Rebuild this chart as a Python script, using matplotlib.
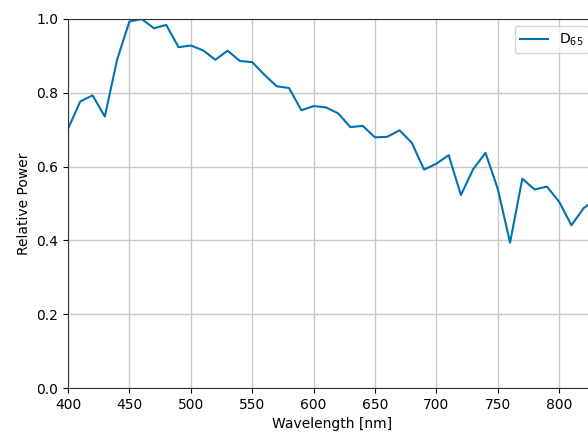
import numpy as np
import matplotlib
matplotlib.use("Agg")
import matplotlib.pyplot as plt

# CIE D65 relative spectral power, 10 nm steps
wavelengths = np.arange(400, 831, 10)
d65 = np.array([
    82.7549, 91.4860, 93.4318, 86.6823, 104.865, 117.008, 117.812, 114.861,
    115.923, 108.811, 109.354, 107.802, 104.790, 107.689, 104.405, 104.046,
    100.000, 96.3342, 95.7880, 88.6856, 90.0062, 89.5991, 87.6987, 83.2886,
    83.6992, 80.0268, 80.2146, 82.2778, 78.2842, 69.7213, 71.6091, 74.3490,
    61.6040, 69.8856, 75.0870, 63.5927, 46.4182, 66.8054, 63.3828, 64.3040,
    59.4519, 51.9590, 57.4406, 60.3125,
])
relative_power = d65 / d65.max()

fig = plt.figure(figsize=(5.88, 4.33), dpi=100)
# axes run past the right edge of the figure, as in the reference crop
ax = fig.add_axes([68 / 588, 45 / 433, 528 / 588, 369 / 433])
ax.plot(wavelengths, relative_power, color="#0072b2", linewidth=1.5, label="D$_{65}$")
ax.set_xlim(400, 830)
ax.set_ylim(0, 1.0)
ax.set_xticks(np.arange(400, 801, 50))
ax.set_yticks(np.arange(0, 1.01, 0.2))
ax.grid(True, color="#c8c8c8", linewidth=1)
ax.set_axisbelow(True)
for s in ax.spines.values():
    s.set_color("#333333")
ax.set_xlabel("Wavelength [nm]")
ax.set_ylabel("Relative Power")
ax.legend(loc="upper right")

fig.savefig("out.png", dpi=100)
